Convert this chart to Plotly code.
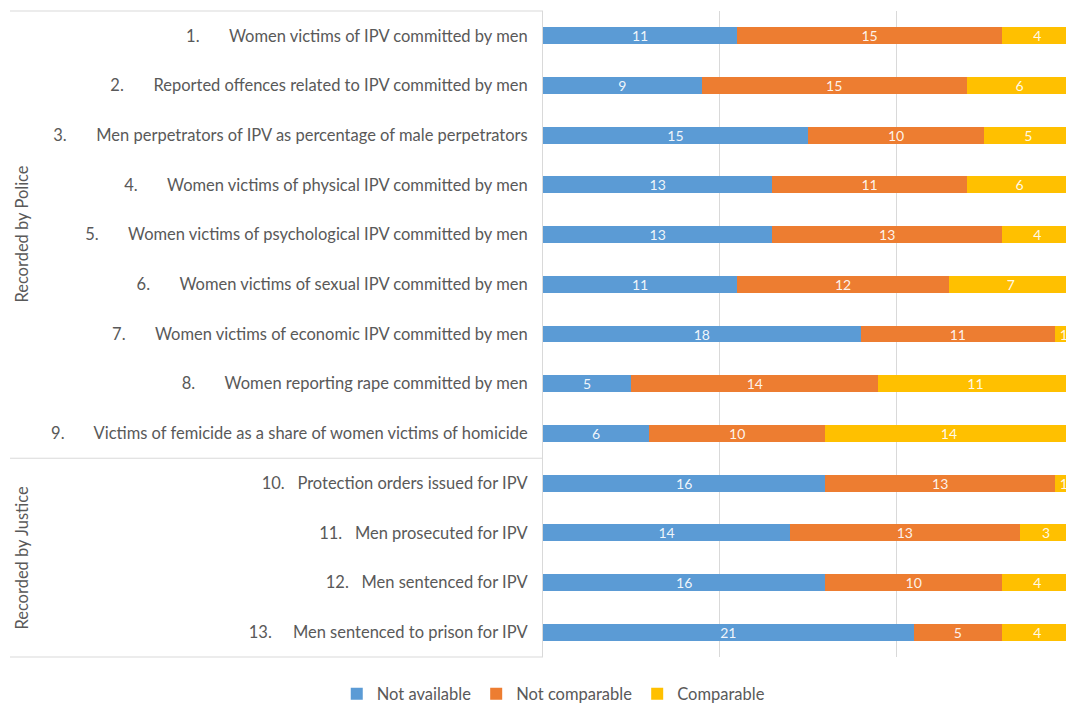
import plotly.graph_objects as go

# ---- data ----
numbers = ["1.", "2.", "3.", "4.", "5.", "6.", "7.", "8.", "9.", "10.", "11.", "12.", "13."]
indicators = [
    "Women victims of IPV committed by men",
    "Reported offences related to IPV committed by men",
    "Men perpetrators of IPV as percentage of male perpetrators",
    "Women victims of physical IPV committed by men",
    "Women victims of psychological IPV committed by men",
    "Women victims of sexual IPV committed by men",
    "Women victims of economic IPV committed by men",
    "Women reporting rape committed by men",
    "Victims of femicide as a share of women victims of homicide",
    "Protection orders issued for IPV",
    "Men prosecuted for IPV",
    "Men sentenced for IPV",
    "Men sentenced to prison for IPV",
]
groups = ["Recorded by Police"] * 9 + ["Recorded by Justice"] * 4
not_available = [11, 9, 15, 13, 13, 11, 18, 5, 6, 16, 14, 16, 21]
not_comparable = [15, 15, 10, 11, 13, 12, 11, 14, 10, 13, 13, 10, 5]
comparable = [4, 6, 5, 6, 4, 7, 1, 11, 14, 1, 3, 4, 4]
series_names = ["Not available", "Not comparable", "Comparable"]

# ---- style ----
colors = ["#5B9BD5", "#ED7D31", "#FFC000"]
FONT = "Lato"
GREY = "#595959"
LINE = "#D9D9D9"
W, H = 1066, 704
ML, MR, MT, MB = 543, 0, 11, 47
tab_gap = [7] * 9 + [3, 3, 3, 5]  # list-number tab spacing (nbsp count)

labels = [n + "\u00a0" * g + t for n, g, t in zip(numbers, tab_gap, indicators)]

fig = go.Figure()
for name, vals, col in zip(series_names, [not_available, not_comparable, comparable], colors):
    fig.add_trace(go.Bar(
        y=labels, x=vals, name=name, orientation="h",
        marker=dict(color=col, line=dict(width=0)),
        texttemplate="%{x}", textposition="inside", insidetextanchor="middle",
        textangle=0, constraintext="none",
        textfont=dict(family=FONT, size=14, color="rgba(255,255,255,0.92)"),
    ))

plot_w = W - ML - MR
px = lambda p: (p - ML) / plot_w  # page pixel x -> paper x

fig.update_layout(
    barmode="stack", bargap=0.66,
    width=W, height=H, autosize=False,
    margin=dict(l=ML, r=MR, t=MT, b=MB, pad=0),
    paper_bgcolor="white", plot_bgcolor="white",
    font=dict(family=FONT, color=GREY),
    xaxis=dict(range=[0, 29.63], dtick=10, tick0=0, showgrid=True, gridcolor=LINE, gridwidth=1,
               showticklabels=False, zeroline=False, showline=False, fixedrange=True),
    yaxis=dict(autorange="reversed", showline=True, linecolor=LINE, linewidth=1, ticks="",
               tickfont=dict(family=FONT, size=16.5, color=GREY), ticklabelstandoff=11,
               showgrid=False, fixedrange=True),
    legend=dict(orientation="h", xref="container", yref="container", x=0.519, y=0.0142,
                xanchor="center", yanchor="middle", font=dict(family=FONT, size=16.5, color=GREY),
                traceorder="normal", itemwidth=30),
    showlegend=True,
)

# group separators and labels
police_n = groups.count("Recorded by Police")
fig.add_shape(type="line", xref="paper", yref="paper", x0=px(10), x1=0, y0=1, y1=1,
              line=dict(color=LINE, width=1))
fig.add_shape(type="line", xref="paper", yref="y", x0=px(10), x1=0, y0=police_n - 0.5, y1=police_n - 0.5,
              line=dict(color=LINE, width=1))
fig.add_shape(type="line", xref="paper", yref="paper", x0=px(10), x1=0, y0=0, y1=0,
              line=dict(color=LINE, width=1))

for gname in ["Recorded by Police", "Recorded by Justice"]:
    idx = [i for i, g in enumerate(groups) if g == gname]
    mid = (idx[0] + idx[-1]) / 2
    fig.add_annotation(text=gname, xref="paper", yref="y", x=px(22), y=mid, textangle=-90,
                       showarrow=False, xanchor="center", yanchor="middle",
                       font=dict(family=FONT, size=16.5, color=GREY))

fig.write_html(
    "out.html",
    config={"displayModeBar": False},
    post_script="document.body.style.margin='0';document.body.style.overflow='hidden';",
)
